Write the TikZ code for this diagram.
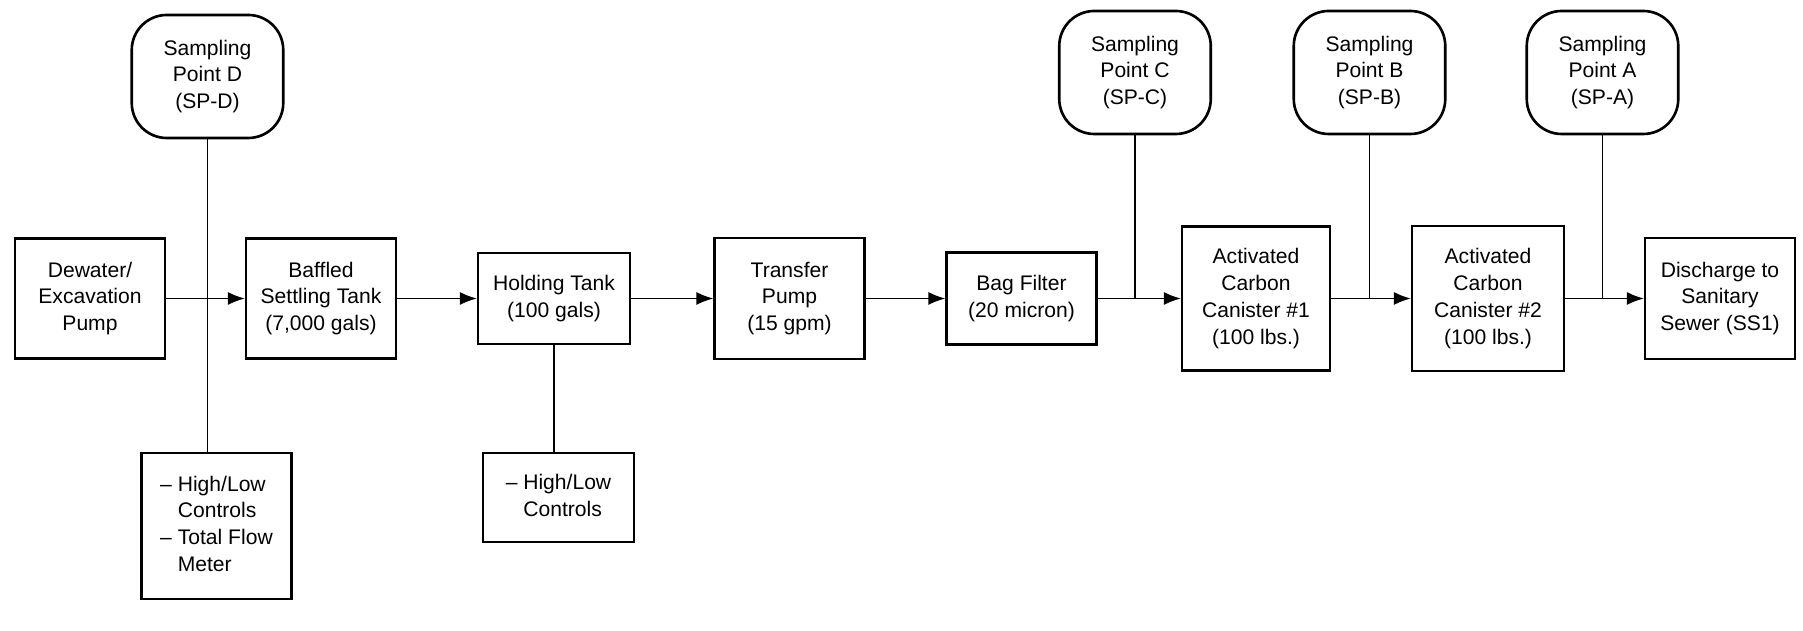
\documentclass[tikz,border=0pt]{standalone}
\usepackage{fontspec}
\setmainfont{Liberation Sans}
\usetikzlibrary{arrows.meta}

\begin{document}
\begin{tikzpicture}[
  box/.style={draw, line width=1.2pt, align=center, inner sep=2pt,
    font=\fontsize{12}{15.3}\selectfont, minimum width=3cm},
  sample/.style={box, line width=1.5pt, rounded corners=0.7cm,
    minimum width=3.03cm, minimum height=2.46cm},
  flow/.style={line width=1pt, -{Latex[length=3.4mm,width=2.6mm]}},
  tap/.style={line width=1pt}
]
  \useasboundingbox (0,0) rectangle (36.06,12.62);
  % sampling points
  \node[sample] (spd) at (4.15,11.09) {Sampling\\Point D\\(SP-D)};
  \node[sample] (spc) at (22.70,11.17) {Sampling\\Point C\\(SP-C)};
  \node[sample] (spb) at (27.39,11.17) {Sampling\\Point B\\(SP-B)};
  \node[sample] (spa) at (32.05,11.17) {Sampling\\Point A\\(SP-A)};
  % treatment train
  \node[box, minimum height=2.4cm] (dewater) at (1.80,6.65) {Dewater/\\Excavation\\Pump};
  \node[box, minimum height=2.4cm] (settling) at (6.42,6.65) {Baffled\\Settling Tank\\(7,000 gals)};
  \node[box, minimum width=3.04cm, minimum height=1.82cm] (holding) at (11.08,6.65) {Holding Tank\\(100 gals)};
  \node[box, minimum height=2.42cm] (transfer) at (15.79,6.65) {Transfer\\Pump\\(15 gpm)};
  \node[box, minimum height=1.84cm] (bagfilter) at (20.43,6.65) {Bag Filter\\(20 micron)};
  \node[box, minimum width=2.96cm, minimum height=2.88cm] (canone) at (25.12,6.65) {Activated\\Carbon\\Canister \#1\\(100 lbs.)};
  \node[box, minimum width=3.04cm, minimum height=2.9cm] (cantwo) at (29.76,6.65) {Activated\\Carbon\\Canister \#2\\(100 lbs.)};
  \node[box, minimum height=2.42cm] (sewer) at (34.40,6.65) {Discharge to\\Sanitary\\Sewer (SS1)};
  % controls
  \node[box, minimum height=2.92cm] (ctrlone) at (4.33,2.10)
    {\begin{tabular}{@{}l@{ }l@{}}--&High/Low\\&Controls\\--&Total Flow\\&Meter\end{tabular}};
  \node[box, minimum width=3.02cm, minimum height=1.78cm] (ctrltwo) at (11.17,2.67)
    {\begin{tabular}{@{}l@{ }l@{}}--&High/Low\\&Controls\end{tabular}};
  % junctions on the flow line
  \coordinate (jc) at (spc.south |- bagfilter.east);
  \coordinate (jb) at (spb.south |- canone.east);
  \coordinate (ja) at (spa.south |- cantwo.east);

  \draw[flow] (dewater) -- (settling);
  \draw[flow] (settling) -- (holding);
  \draw[flow] (holding) -- (transfer);
  \draw[flow] (transfer) -- (bagfilter);
  \draw[flow] (bagfilter) -- (canone);
  \draw[flow] (canone) -- (cantwo);
  \draw[flow] (cantwo) -- (sewer);

  \draw[tap] (spd.south) -- (spd.south |- ctrlone.north);
  \draw[tap] (holding.south) -- (holding.south |- ctrltwo.north);
  \draw[tap] (spc.south) -- (jc);
  \draw[tap] (spb.south) -- (jb);
  \draw[tap] (spa.south) -- (ja);
\end{tikzpicture}
\end{document}
